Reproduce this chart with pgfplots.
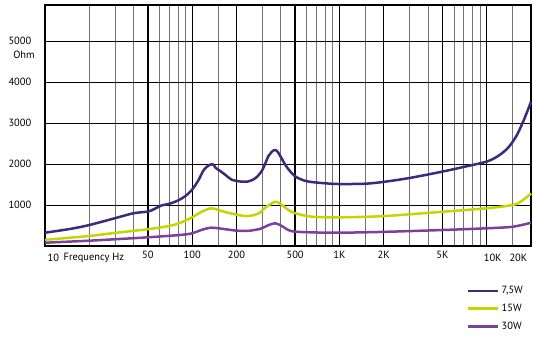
\documentclass[border=0pt]{standalone}
\usepackage{pgfplots}
\pgfplotsset{compat=1.18}
\usepackage{fontspec}
\setmainfont{PT Sans}
\definecolor{cA}{HTML}{3D2A7A}
\definecolor{cB}{HTML}{C5D500}
\definecolor{cC}{HTML}{7D3F9C}
\begin{document}
\fontsize{10.5}{12.5}\selectfont
\begin{tikzpicture}[x=1bp,y=1bp]
\path[use as bounding box] (0,0) rectangle (533,338);
\begin{axis}[
  at={(45bp,92bp)}, anchor=south west,
  scale only axis, width=486bp, height=241bp,
  xmode=log, xmin=10, xmax=20000, ymin=0, ymax=5880,
  clip=false,
  /pgf/number format/assume math mode=true,
  axis line style={line width=1.5bp, black},
  xtick={10,50,100,200,500,1000,2000,5000,10000,20000},
  xticklabels={,50,100,200,500,1K,2K,5K,,},
  minor xtick={20,30,40,60,70,80,90,150,300,400,600,700,800,900,1500,3000,4000,6000,7000,8000,9000,15000},
  ytick={1000,2000,3000,4000,5000},
  yticklabels={1000,2000,3000,4000,5000},
  xmajorgrids, xminorgrids, ymajorgrids,
  major x grid style={line width=1.4bp, black},
  minor x grid style={line width=0.9bp, black!55},
  major y grid style={line width=1bp, black},
  tick style={draw=none},
  xticklabel style={yshift=-1bp},
  yticklabel style={xshift=-10bp},
  legend style={at={(rel axis cs:0.862,-0.15)}, anchor=north west, draw=none, fill=none,
    row sep=5bp, font=\fontsize{10.5}{12.5}\selectfont, cells={anchor=west}},
  legend image code/.code={\draw[#1, line width=2.5bp] (0,0) -- (24bp,0); \path (0,0) -- (30bp,0);},
  legend cell align=left,
]
\addplot[cA, line width=2.5bp, smooth, tension=0.5] coordinates {
(10,324) (15,420) (20,512) (30,680) (40,800) (50,840) (55,900) (62,990) (70,1030) (80,1110) (90,1220) (100,1380)
(110,1600) (120,1860) (130,1970) (138,1990) (145,1900) (155,1830) (170,1720) (185,1620) (210,1575)
(240,1575) (270,1660) (300,1860) (330,2200) (360,2340) (380,2300) (410,2100) (440,1920) (500,1700)
(600,1580) (800,1530) (1000,1512) (1500,1520) (2000,1565) (3000,1660) (5000,1815) (7000,1930)
(10000,2060) (12000,2200) (14000,2400) (16000,2700) (18000,3100) (20000,3520)};
\addlegendentry{7,5W}
\addplot[cB, line width=2.5bp, smooth, tension=0.5] coordinates {
(10,150) (20,245) (30,320) (50,410) (70,490) (82,560) (100,700) (115,830) (134,920) (150,880)
(180,800) (233,730) (280,790) (320,960) (366,1080) (400,1020) (450,880) (500,800) (650,715)
(1000,700) (2000,730) (5000,835) (10000,920) (15000,1000) (17000,1080) (20000,1280)};
\addlegendentry{15W}
\addplot[cC, line width=2.5bp, smooth, tension=0.5] coordinates {
(10,80) (20,130) (30,165) (50,212) (82,268) (100,310) (115,390) (134,446) (160,420) (200,375)
(240,370) (290,420) (330,510) (366,554) (400,500) (450,390) (500,350) (700,330) (1000,324)
(2000,345) (5000,390) (10000,432) (15000,470) (20000,568)};
\addlegendentry{30W}
\node[anchor=west] at (axis cs:10,0) [yshift=-12bp, xshift=-1bp] {10};
\node[anchor=west] at (axis cs:10,0) [yshift=-12bp, xshift=15bp] {Frequency Hz};
\node[anchor=center] at (axis cs:10000,0) [yshift=-12bp, xshift=6bp] {10K};
\node[anchor=east] at (axis cs:20000,0) [yshift=-12bp] {20K};
\node[anchor=center] at (axis cs:10,4660) [xshift=-21bp] {Ohm};
\end{axis}
\end{tikzpicture}
\end{document}
